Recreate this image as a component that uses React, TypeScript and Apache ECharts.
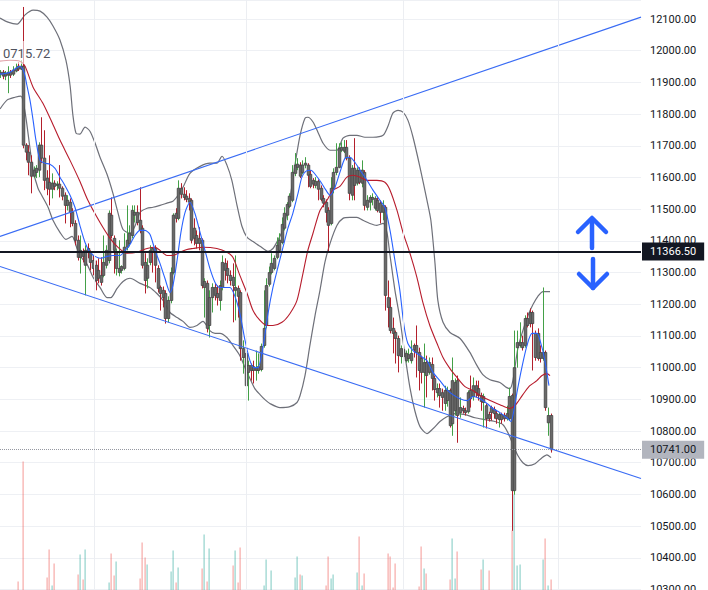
import React, { useEffect, useRef } from 'react';
import * as echarts from 'echarts';

// ---- data ----
// each candle: [open, close, low, high]
const candles: number[][] = [
  [11926,11932,11914,11939],[11932,11920,11910,11939],[11920,11929,11907,11936],[11923,11932,11866,11951],
  [11932,11923,11914,11939],[11926,11939,11920,11951],[11936,11945,11932,11961],[11951,11942,11936,11964],
  [11942,11951,11939,11970],[11951,11702,11692,12138],[11702,11680,11654,11708],[11680,11648,11607,11702],
  [11648,11604,11550,11670],[11604,11623,11598,11635],[11616,11629,11598,11639],[11623,11702,11601,11711],
  [11702,11661,11645,11790],[11661,11591,11560,11749],[11598,11566,11544,11623],[11585,11563,11512,11670],
  [11563,11582,11534,11613],[11582,11572,11560,11591],[11575,11579,11560,11588],[11579,11566,11537,11639],
  [11566,11541,11528,11572],[11544,11512,11455,11553],[11512,11528,11496,11544],[11522,11490,11443,11534],
  [11490,11455,11446,11503],[11455,11402,11386,11465],[11402,11348,11338,11417],[11348,11370,11297,11417],
  [11364,11351,11332,11376],[11323,11370,11228,11386],[11376,11364,11345,11392],[11364,11332,11307,11370],
  [11338,11313,11291,11354],[11323,11275,11244,11338],[11307,11282,11266,11345],[11291,11269,11259,11348],
  [11291,11332,11285,11417],[11323,11370,11313,11386],[11338,11487,11329,11496],[11481,11417,11408,11537],
  [11408,11370,11297,11417],[11313,11364,11291,11376],[11300,11313,11288,11402],[11307,11319,11297,11323],
  [11313,11380,11307,11424],[11380,11402,11370,11512],[11392,11424,11383,11449],[11417,11496,11408,11512],
  [11481,11490,11458,11512],[11490,11458,11449,11512],[11465,11433,11424,11569],[11440,11323,11313,11449],
  [11332,11275,11234,11361],[11282,11323,11250,11345],[11332,11370,11323,11386],[11376,11364,11300,11380],
  [11376,11323,11269,11386],[11313,11250,11237,11323],[11253,11234,11180,11259],[11244,11221,11190,11256],
  [11234,11155,11139,11244],[11155,11212,11143,11225],[11212,11300,11203,11316],[11300,11481,11294,11487],
  [11487,11471,11458,11503],[11471,11566,11465,11591],[11566,11547,11534,11582],[11547,11537,11528,11569],
  [11541,11531,11522,11560],[11534,11522,11496,11550],[11528,11402,11392,11534],[11440,11408,11386,11471],
  [11417,11392,11376,11433],[11408,11392,11370,11443],[11402,11259,11250,11408],[11253,11272,11158,11282],
  [11266,11124,11111,11275],[11133,11221,11095,11244],[11221,11253,11174,11266],[11253,11228,11212,11266],
  [11234,11221,11196,11259],[11212,11259,11180,11275],[11253,11332,11244,11354],[11329,11307,11275,11345],
  [11313,11291,11266,11338],[11291,11275,11259,11307],[11285,11259,11143,11329],[11244,11253,11149,11354],
  [11250,11225,11158,11259],[11237,11060,11022,11244],[11032,11060,10981,11086],[11045,10943,10934,11054],
  [10985,11007,10896,11022],[11007,10991,10959,11013],[11003,10991,10950,11022],[10991,11000,10959,11054],
  [10991,11003,10981,11045],[10994,11067,10988,11076],[11070,11124,11063,11244],[11133,11259,11124,11282],
  [11263,11300,11256,11319],[11300,11329,11294,11361],[11313,11345,11307,11354],[11348,11386,11342,11411],
  [11370,11402,11364,11424],[11395,11452,11389,11474],[11440,11487,11433,11506],[11481,11515,11465,11522],
  [11509,11541,11503,11550],[11528,11616,11522,11639],[11613,11639,11604,11677],[11632,11642,11623,11661],
  [11639,11604,11598,11648],[11616,11639,11610,11654],[11639,11645,11629,11664],[11639,11607,11569,11645],
  [11610,11572,11566,11623],[11591,11579,11566,11598],[11575,11588,11566,11601],[11588,11563,11528,11594],
  [11566,11531,11525,11575],[11534,11519,11506,11544],[11522,11490,11458,11531],[11496,11449,11364,11506],
  [11455,11566,11449,11601],[11566,11616,11550,11629],[11616,11632,11607,11708],[11632,11692,11629,11708],
  [11686,11695,11680,11711],[11683,11695,11677,11718],[11695,11661,11654,11718],[11661,11550,11528,11670],
  [11544,11629,11528,11639],[11629,11575,11528,11724],[11582,11623,11575,11632],[11623,11585,11579,11632],
  [11582,11623,11569,11654],[11616,11512,11496,11623],[11506,11528,11496,11544],[11522,11537,11496,11544],
  [11531,11537,11512,11550],[11503,11534,11496,11541],[11528,11496,11490,11537],[11519,11490,11455,11528],
  [11490,11512,11465,11528],[11506,11228,11180,11512],[11221,11190,11127,11275],[11190,11117,11108,11221],
  [11124,11108,11045,11158],[11111,11092,11013,11117],[11092,11038,10985,11101],[11035,11060,11013,11070],
  [11057,11035,11022,11063],[11022,11045,11016,11054],[11029,11041,11016,11060],[11022,11045,11013,11086],
  [11070,11057,11032,11076],[11070,11048,10969,11133],[11048,10991,10928,11063],[11029,10985,10950,11038],
  [10985,11016,10874,11076],[11016,10975,10906,11038],[10985,11016,10978,11032],[11010,10966,10928,11032],
  [10966,10931,10896,10975],[10921,10934,10906,10950],[10934,10912,10874,10950],[10921,10906,10864,10934],
  [10887,10928,10864,10943],[10896,10928,10877,10940],[10928,10817,10811,10934],[10823,10959,10785,11032],
  [10864,10953,10849,10966],[10959,10849,10763,10975],[10858,10874,10842,10906],[10871,10864,10855,10880],
  [10864,10858,10849,10874],[10861,10921,10855,10928],[10928,10902,10874,10975],[10909,10943,10896,10969],
  [10943,10921,10906,10959],[10934,10912,10896,10959],[10912,10893,10864,10921],[10890,10909,10811,10918],
  [10880,10839,10808,10887],[10852,10839,10830,10861],[10874,10858,10833,10880],[10868,10855,10839,10877],
  [10855,10839,10823,10864],[10836,10852,10811,10858],[10852,10836,10823,10858],[10849,10839,10830,10858],
  [10839,10855,10833,10880],[10839,10909,10833,10937],[10912,10612,10485,10918],[10612,11000,10599,11117],
  [11063,11079,11000,11117],[11070,11079,11063,11143],[11079,11063,11054,11101],[11070,11155,11063,11165],
  [11155,11133,11127,11174],[11174,11139,11127,11187],[11174,11139,10991,11180],[11108,11032,11022,11117],
  [11108,11029,11022,11124],[11048,11029,11016,11070],[11029,11048,11022,11253],[11048,10874,10864,11054],
  [10826,10849,10785,10874],[10849,10741,10732,10855],
];

// volume per candle, 12 candles per row
const volumes: number[] = [
  0,0,0,0,0,0, 0,800,0,12800, 0,0,
  0,0,0,0,0,0, 1200,4000,400,2600, 0,0,
  0,0,0,0,0,0, 1500,3500,1000,4000, 0,0,
  0,0,0,0,0,0, 700,3600,1400,2800, 0,0,
  0,0,0,0,0,0, 1100,4700,3200,2500, 0,0,
  0,0,0,0,0,0, 1800,3900,700,2200, 0,0,
  0,0,0,0,0,0, 2100,5500,800,4100, 0,0,
  0,0,0,0,0,0, 2400,3900,700,4200, 0,0,
  0,0,0,0,0,0, 400,3000,0,1900, 0,0,
  0,0,0,0,0,0, 1200,3300,1500,1400, 0,0,
  0,0,0,0,0,0, 400,3300,1100,1500, 0,0,
  0,0,0,0,0,0, 1700,5300,400,1600, 0,0,
  0,0,0,0,0,0, 3600,3300,200,2600, 0,0,
  0,0,0,0,0,0, 300,4300,2100,1600, 0,0,
  0,0,0,0,0,0, 1000,5100,1100,3800, 0,0,
  0,0,0,0,0,0, 2000,3000,0,1900, 0,0,
  0,0,0,0,0,0, 5900,9500,2400,2500, 0,0,
  0,0,0,0,0,0, 3000,5100,400,1000,
];

// fast moving average (blue), [bar position, price]
const fastMA: number[][] = [
  [0,11926],[3.9,11932],[7.7,11951],[9.3,11932],[10.4,11891],[11.6,11844],[12.8,11781],[13.9,11718],[15.5,11654],
  [17.4,11645],[19.3,11642],[21.3,11629],[23.2,11601],[25.1,11575],[27.1,11544],[29,11506],[30.9,11449],[32.9,11395],
  [34.8,11364],[36.8,11351],[38.7,11345],[41.4,11351],[43.7,11354],[46.4,11354],[48.4,11370],[50.3,11389],[52.2,11417],
  [54.2,11433],[56.1,11433],[58,11421],[60,11370],[61.9,11329],[63.8,11282],[65.8,11237],[66.9,11259],[68.5,11338],
  [70,11427],[71.6,11490],[73.5,11522],[75.4,11487],[77.4,11427],[79.3,11370],[81.2,11313],[83.2,11269],[85.1,11253],
  [87,11253],[89,11253],[90.9,11225],[92.8,11171],[94.8,11086],[96.7,11022],[98.3,11000],[99.8,11000],[101.7,11063],
  [103.7,11171],[105.6,11253],[107.5,11316],[109.5,11380],[111.4,11440],[113.3,11487],[115.3,11550],[116.8,11601],
  [118.4,11620],[120.3,11623],[122.2,11607],[124.2,11585],[126.1,11560],[127.7,11544],[129.6,11569],[131.5,11616],
  [133.5,11661],[135.4,11664],[137.3,11648],[139.3,11623],[142,11591],[144.3,11560],[147,11528],[148.9,11506],
  [150.9,11433],[152.8,11338],[154.7,11244],[156.3,11133],[157.8,11076],[159.8,11054],[162.5,11038],[165.2,11022],
  [167.5,10985],[170.2,10959],[172.9,10931],[175.2,10915],[178,10902],[180.7,10896],[183,10909],[185.7,10902],
  [188.4,10887],[190.7,10871],[193.4,10858],[196.1,10842],[197.7,10830],[198.8,10864],[200,10921],[201.9,11000],
  [203.9,11070],[205.8,11108],[207.7,11108],[209.7,11063],[210.8,11022],[212.4,10943],
];

// slow moving average / band basis (red)
const slowMA: number[][] = [
  [0,11967],[3.9,11970],[7.7,11967],[9.7,11951],[12.8,11885],[16.6,11834],[20.1,11774],[23.2,11718],[27.1,11654],
  [30.9,11588],[34,11528],[38.7,11458],[42.6,11408],[45.6,11380],[49.1,11361],[53,11364],[56.9,11376],[60,11380],
  [61.9,11370],[64.6,11354],[66.9,11354],[69.6,11364],[72.3,11373],[74.7,11376],[78.5,11380],[83.9,11376],[87.8,11364],
  [90.1,11348],[92.8,11291],[95.6,11234],[97.9,11180],[100.6,11149],[103.3,11133],[105.6,11133],[109.1,11143],
  [112.2,11171],[114.9,11212],[117.2,11297],[119.1,11370],[121.1,11424],[123.8,11496],[126.5,11528],[128.8,11560],
  [131.5,11572],[134.2,11601],[136.6,11607],[139.3,11601],[142,11591],[145.8,11591],[148.9,11585],[150.9,11560],
  [153.6,11496],[155.9,11427],[158.6,11361],[161.3,11285],[163.6,11206],[166.3,11133],[169.1,11076],[171.4,11032],
  [174.1,10997],[176.8,10969],[179.9,10940],[183,10928],[185.7,10912],[189.6,10896],[193.4,10883],[197.3,10871],
  [199.2,10880],[201.2,10902],[203.1,10924],[205,10943],[207.7,10959],[209.7,10975],[211.6,10981],[212.8,10975],
];

const bandUpper: number[][] = [
  [0,12103],[3.1,12090],[6.6,12084],[9.7,12113],[12.8,12128],[15.5,12125],[18.2,12106],[20.5,12078],[23.2,12034],
  [25.5,11970],[27.1,11891],[28.2,11797],[29.4,11740],[30.9,11737],[32.9,11759],[34.8,11746],[36.8,11708],[38.7,11664],
  [41.4,11610],[43.7,11550],[45.6,11490],[47.6,11436],[50.3,11424],[52.2,11446],[54.2,11490],[56.9,11503],[59.2,11506],
  [61.9,11512],[64.6,11519],[66.9,11525],[68.9,11544],[70.8,11569],[73.5,11613],[77.4,11635],[81.2,11645],[83.9,11645],
  [85.9,11667],[87.8,11639],[89.7,11591],[91.7,11512],[93.6,11446],[95.6,11411],[97.9,11398],[100.6,11383],[103.7,11367],
  [105.6,11376],[107.5,11402],[109.5,11436],[111.4,11503],[113,11575],[114.1,11639],[116.1,11733],[118,11787],
  [119.1,11790],[121.1,11775],[123,11743],[125,11708],[127.7,11686],[130.4,11686],[132.7,11724],[135.4,11733],
  [138.1,11733],[141.2,11727],[144.3,11727],[148.2,11733],[150.1,11762],[152,11803],[154,11812],[155.9,11806],
  [157.8,11781],[159.8,11727],[162.5,11632],[165.2,11528],[166.7,11465],[168.3,11329],[169.4,11212],[171.4,11143],
  [174.1,11111],[178,11092],[181.8,11048],[184.5,11007],[186.8,10978],[189.6,10962],[193.4,10953],[196.1,10937],
  [197.3,10934],[198.5,10962],[200.4,11063],[202.3,11117],[204.3,11165],[206.2,11199],[208.1,11225],[210.1,11240],
  [212.8,11240],
];

const bandLower: number[][] = [
  [0,11816],[2.7,11844],[5.8,11853],[8.1,11857],[9.7,11806],[11.6,11692],[12.8,11623],[14.7,11566],[16.6,11537],
  [18.6,11506],[20.5,11465],[23.2,11427],[25.5,11405],[27.9,11414],[29.8,11376],[31.7,11345],[33.7,11326],[36,11285],
  [38.7,11253],[41.4,11221],[42.9,11221],[45.3,11250],[47.6,11272],[50.3,11282],[54.2,11266],[58,11253],[60.7,11234],
  [63.1,11212],[65.8,11174],[68.5,11158],[70.8,11146],[73.5,11127],[76.2,11133],[78.5,11146],[81.2,11117],[83.2,11108],
  [85.1,11108],[87.8,11095],[90.1,11070],[92.8,11038],[94.8,11000],[96.7,10966],[98.6,10934],[100.6,10915],[102.5,10899],
  [104.4,10887],[108.3,10874],[112.2,10877],[114.9,10890],[116.1,10912],[118,10975],[119.9,11070],[121.9,11165],
  [123.8,11244],[125.7,11332],[127.7,11392],[130.4,11449],[132.7,11471],[135.4,11474],[138.1,11474],[140.4,11465],
  [143.1,11455],[145.8,11449],[148.2,11455],[149.7,11427],[150.9,11354],[152.8,11244],[154.7,11155],[156.7,11038],
  [158.6,10937],[160.5,10864],[162.5,10814],[165.2,10792],[167.5,10807],[170.2,10830],[172.9,10845],[176,10855],
  [179.9,10852],[183.8,10842],[187.6,10836],[191.5,10830],[194.6,10820],[196.5,10795],[198.5,10757],[200.4,10722],
  [202.3,10700],[204.3,10691],[207,10697],[209.7,10716],[211.6,10725],[213.2,10716],
];

const upperTrend: number[][] = [[0, 11414], [248, 12106]];
const lowerTrend: number[][] = [[0, 11319], [248, 10650]];
const levelPrice = 11366.5;
const lastPrice = 10741;
const sessionBreaks = [36.4, 95.2, 155.9, 215.9];
const cornerValue = '0715.72';
const slotCount = 248;
const priceMin = 10300;
const priceMax = 12160;
const priceStep = 100;

// ---- styles ----
const UP = '#43a047';
const DOWN = '#b3202c';
const BODY = '#6a6a6a';
const BODY_EDGE = '#484848';
const VOL_UP = 'rgba(38,166,154,0.5)';
const VOL_DOWN = 'rgba(239,83,80,0.5)';
const BLUE = '#2962ff';
const FONT = 'Roboto, "Liberation Sans", sans-serif';

export default function App() {
  const ref = useRef<HTMLDivElement>(null);

  useEffect(() => {
    if (!ref.current) return;
    const chart = echarts.init(ref.current, null, { renderer: 'svg' });

    const candleData = candles.map((c, i) => [i, c[0], c[1], c[2], c[3]]);
    const volData = volumes.map((v, i) => [i, v, candles[i] && candles[i][1] >= candles[i][0] ? 1 : 0]);

    const option: any = {
      animation: false,
      backgroundColor: '#ffffff',
      grid: { left: 0, right: 67, top: 0, bottom: 1, containLabel: false },
      xAxis: { type: 'value', min: 0, max: slotCount, show: false, splitLine: { show: false } },
      yAxis: [
        {
          type: 'value', position: 'right', min: priceMin, max: priceMax, interval: priceStep,
          axisLine: { show: false }, axisTick: { show: false },
          axisLabel: {
            color: '#131722', fontSize: 11, fontFamily: FONT, margin: 9, showMaxLabel: false,
            formatter: (v: number) => (v % priceStep === 0 ? v.toFixed(2) : ''),
          },
          splitLine: { lineStyle: { color: '#eef0f4', width: 1 } },
        },
        { type: 'value', min: 0, max: 59000, show: false, splitLine: { show: false } },
      ],
      series: [
        {
          type: 'custom', name: 'volume', yAxisIndex: 1, z: 1, silent: true,
          data: volData,
          encode: { x: 0, y: 1 },
          renderItem: (params: any, api: any) => {
            const v = api.value(1);
            if (!v) return null;
            const top = api.coord([api.value(0), v]);
            const base = api.coord([api.value(0), 0]);
            return {
              type: 'rect',
              shape: { x: Math.round(top[0]) - 0.5, y: top[1], width: 1.2, height: base[1] - top[1] + 2 },
              style: { fill: api.value(2) ? VOL_UP : VOL_DOWN },
            };
          },
        },
        {
          type: 'line', name: 'upper band', data: bandUpper, showSymbol: false, smooth: 0.25, z: 2, silent: true,
          lineStyle: { color: '#6e7079', width: 1.2 },
        },
        {
          type: 'line', name: 'lower band', data: bandLower, showSymbol: false, smooth: 0.25, z: 2, silent: true,
          lineStyle: { color: '#6e7079', width: 1.2 },
          markLine: {
            silent: true, symbol: ['none', 'none'], label: { show: false },
            lineStyle: { color: '#eceef2', width: 1, type: 'solid' },
            data: sessionBreaks.map((x) => ({ xAxis: x })),
          },
        },
        {
          type: 'custom', name: 'price', z: 3, silent: true,
          data: candleData,
          encode: { x: 0, y: [1, 2, 3, 4] },
          renderItem: (params: any, api: any) => {
            const i = api.value(0);
            const o = api.value(1), c = api.value(2), l = api.value(3), h = api.value(4);
            const po = api.coord([i, o]);
            const pc = api.coord([i, c]);
            const pl = api.coord([i, l]);
            const ph = api.coord([i, h]);
            const x = Math.round(po[0]) + 0.5;
            const up = c >= o;
            const top = Math.min(po[1], pc[1]);
            const bottom = Math.max(po[1], pc[1]);
            const bw = 2.5;
            return {
              type: 'group',
              children: [
                { type: 'line', shape: { x1: x, y1: ph[1], x2: x, y2: pl[1] }, style: { stroke: up ? UP : DOWN, lineWidth: 1 } },
                { type: 'rect', shape: { x: x - bw / 2, y: top, width: bw, height: Math.max(bottom - top, 1) }, style: { fill: BODY, stroke: BODY_EDGE, lineWidth: 0.9 } },
              ],
            };
          },
        },
        {
          type: 'line', name: 'slow MA', data: slowMA, showSymbol: false, smooth: 0.25, z: 4, silent: true,
          lineStyle: { color: '#b71c2c', width: 1.1 },
        },
        {
          type: 'line', name: 'fast MA', data: fastMA, showSymbol: false, smooth: 0.25, z: 4, silent: true,
          lineStyle: { color: BLUE, width: 1.1 },
        },
        {
          type: 'line', name: 'upper trend', data: upperTrend, showSymbol: false, z: 4, silent: true,
          lineStyle: { color: '#3a6cf4', width: 1.1 },
        },
        {
          type: 'line', name: 'lower trend', data: lowerTrend, showSymbol: false, z: 5, silent: true,
          lineStyle: { color: '#3a6cf4', width: 1.1 },
          markLine: {
            silent: true, symbol: ['none', 'none'],
            data: [
              {
                yAxis: levelPrice,
                lineStyle: { color: '#131722', width: 2, type: 'solid' },
                label: {
                  show: true, position: 'end', distance: 1, formatter: (p: any) => Number(p.value).toFixed(2),
                  color: '#ffffff', backgroundColor: '#131722', padding: [4, 8, 3, 8], fontSize: 11, fontFamily: FONT,
                },
              },
              {
                yAxis: lastPrice,
                lineStyle: { color: '#9598a1', width: 1, type: 'dotted' },
                label: {
                  show: true, position: 'end', distance: 1, formatter: (p: any) => Number(p.value).toFixed(2),
                  color: '#131722', backgroundColor: '#b2b5be', padding: [4, 8, 3, 8], fontSize: 11, fontFamily: FONT,
                },
              },
            ],
          },
        },
      ],
      graphic: [
        { type: 'rect', z: 20, shape: { x: 0, y: 41, width: 50, height: 23 }, style: { fill: 'rgba(255,255,255,0.6)' } },
        { type: 'text', z: 21, x: 3, y: 53, style: { text: cornerValue, fill: '#50535e', font: '13px Roboto, sans-serif', verticalAlign: 'middle' } },
        { type: 'polyline', z: 20, shape: { points: [[592, 248], [592, 219]] }, style: { stroke: BLUE, lineWidth: 4.5, lineCap: 'round', lineJoin: 'round', fill: 'none' } },
        { type: 'polyline', z: 20, shape: { points: [[578, 232], [592, 218], [606, 232]] }, style: { stroke: BLUE, lineWidth: 4.5, lineCap: 'round', lineJoin: 'round', fill: 'none' } },
        { type: 'polyline', z: 20, shape: { points: [[593, 259], [593, 288]] }, style: { stroke: BLUE, lineWidth: 4.5, lineCap: 'round', lineJoin: 'round', fill: 'none' } },
        { type: 'polyline', z: 20, shape: { points: [[579, 274], [593, 288], [607, 274]] }, style: { stroke: BLUE, lineWidth: 4.5, lineCap: 'round', lineJoin: 'round', fill: 'none' } },
      ],
    };

    chart.setOption(option);
    return () => chart.dispose();
  }, []);

  return (
    <div
      ref={ref}
      style={{ position: 'fixed', left: 0, top: 0, width: 708, height: 595, background: '#ffffff' }}
    />
  );
}
